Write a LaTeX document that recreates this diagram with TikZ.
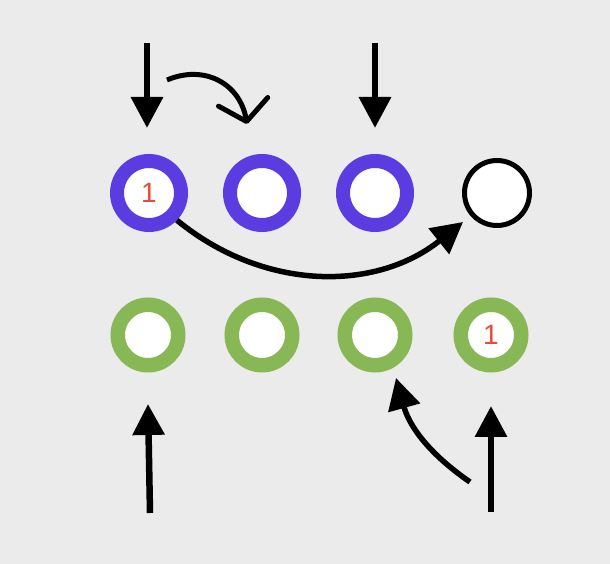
\documentclass[tikz,border=0pt]{standalone}
\usepackage{fontspec}
\setmainfont{Liberation Sans}
\usepackage{xcolor}
\usepackage{tikz}
\usetikzlibrary{arrows.meta,positioning}
\definecolor{ringp}{HTML}{5A3CE0}
\definecolor{ringg}{HTML}{88B756}
\definecolor{numc}{HTML}{E54B3C}
\definecolor{bgc}{HTML}{EBEBEB}
\tikzset{
  ar/.style={-{Triangle[length=31pt,width=31pt]},line width=6.5pt,black},
  car/.style={-{Triangle[length=31pt,width=32pt]},line width=5.5pt,black},
  hk/.style={-{Straight Barb[length=20pt,width=50pt,round]},line width=5pt,black},
  pnd/.style={circle,draw=ringp,line width=14pt,fill=white,minimum size=64pt,inner sep=0pt},
  gnd/.style={circle,draw=ringg,line width=14.5pt,fill=white,minimum size=60.5pt,inner sep=0pt},
  ond/.style={circle,draw=black,line width=5pt,fill=white,minimum size=65pt,inner sep=0pt},
  num/.style={text=numc,font=\fontsize{28}{28}\selectfont,inner sep=0pt}
}
\begin{document}
\begin{tikzpicture}[x=1pt,y=1pt]
\fill[bgc] (0,0) rectangle (610,564);
% top row
\foreach \n/\x in {p1/149,p2/262,p3/375}{\node[pnd] (\n) at (\x,371) {};}
\node[ond] (o4) at (497,371) {};
% bottom row
\foreach \n/\x in {g1/148,g2/262,g3/375,g4/491}{\node[gnd] (\n) at (\x,229) {};}
\node[num] (t1) at (p1) {1};
\node[num] (t4) at (g4) {1};
% free arrow ends
\coordinate (a1s) at (147,521); \coordinate (a1e) at (147,436);
\coordinate (a3s) at (375,521); \coordinate (a3e) at (375,436);
\coordinate (b1s) at (150,51);  \coordinate (b1e) at (148,160);
\coordinate (b4s) at (491,52);  \coordinate (b4e) at (491,158);
\coordinate (hs) at (167,484);  \coordinate (he) at (247,440);
\coordinate (ct) at (463,342);
\coordinate (cs) at (470,82);   \coordinate (ce) at (396,186);
\draw[ar] (a1s) -- (a1e);
\draw[ar] (a3s) -- (a3e);
\draw[ar] (b1s) -- (b1e);
\draw[ar] (b4s) -- (b4e);
\draw[hk] (hs) .. controls (205,500) and (240,480) .. (he);
\draw[car] (p1) to[bend right=39] (ct);
\draw[car] (cs) to[bend left=20] (ce);
\end{tikzpicture}
\end{document}
